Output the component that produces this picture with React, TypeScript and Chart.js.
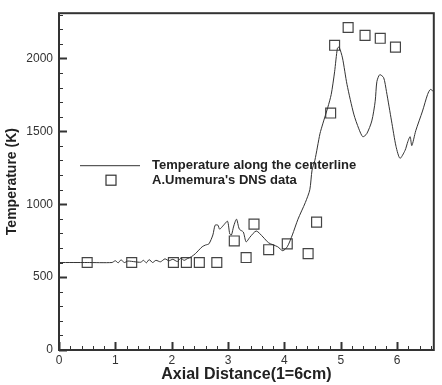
import { useEffect, useRef } from 'react';
import { Chart, registerables } from 'chart.js';

Chart.register(...registerables);

const lineX = [0, 0.5, 0.94, 1.0, 1.05, 1.1, 1.16, 1.22, 1.35, 1.45, 1.5, 1.55, 1.6, 1.66, 1.72, 1.8, 1.88, 1.95, 2.02, 2.1, 2.16, 2.22, 2.28, 2.35, 2.42, 2.54, 2.6, 2.66, 2.73, 2.77, 2.82, 2.85, 2.92, 2.99, 3.03, 3.06, 3.1, 3.15, 3.2, 3.27, 3.32, 3.39, 3.5, 3.62, 3.72, 3.88, 3.97, 4.05, 4.14, 4.24, 4.37, 4.45, 4.49, 4.54, 4.63, 4.68, 4.77, 4.83, 4.89, 4.94, 4.97, 5.03, 5.11, 5.23, 5.32, 5.39, 5.46, 5.55, 5.61, 5.64, 5.69, 5.76, 5.81, 5.9, 5.98, 6.05, 6.14, 6.19, 6.23, 6.26, 6.33, 6.45, 6.54, 6.59, 6.66];
const lineY = [600, 600, 600, 612, 598, 618, 600, 610, 605, 602, 615, 598, 620, 600, 615, 605, 625, 612, 622, 607, 630, 615, 627, 640, 661, 708, 720, 728, 789, 856, 856, 829, 856, 883, 796, 789, 850, 897, 829, 809, 742, 775, 816, 775, 735, 708, 681, 708, 789, 897, 1011, 1099, 1234, 1301, 1483, 1551, 1665, 1753, 1908, 2070, 2077, 2003, 1821, 1618, 1517, 1463, 1483, 1571, 1706, 1841, 1888, 1868, 1773, 1571, 1396, 1315, 1369, 1430, 1463, 1402, 1504, 1639, 1753, 1787, 1767];

const dnsX = [0.5, 1.29, 2.03, 2.26, 2.49, 2.8, 3.11, 3.32, 3.46, 3.72, 4.05, 4.42, 4.57, 4.82, 4.89, 5.13, 5.43, 5.7, 5.97];
const dnsY = [600, 600, 600, 600, 600, 600, 748, 634, 863, 688, 728, 661, 877, 1625, 2090, 2212, 2158, 2138, 2077];

const seriesNames = ['Temperature along the centerline', "A.Umemura's DNS data"];
const xTitle = 'Axial Distance(1=6cm)';
const yTitle = 'Temperature (K)';
const xMajorTicks = [0, 1, 2, 3, 4, 5, 6];
const yMajorTicks = [0, 500, 1000, 1500, 2000];
const xMinorPerMajor = 5;
const yMinorStep = 100;
const xMin = 0;
const xMax = 6.65;
const yMin = 0;
const yMax = 2310;

const INK = '#333333';
const FONT = "'Liberation Sans', Arial, sans-serif";

function xTickList() {
  const out: { value: number; major: boolean }[] = [];
  xMajorTicks.forEach((m) => {
    for (let i = 0; i < xMinorPerMajor; i++) {
      const v = m + i / xMinorPerMajor;
      if (v <= xMax) out.push({ value: v, major: i === 0 });
    }
  });
  return out;
}

function yTickList() {
  const out: { value: number; major: boolean }[] = [];
  for (let v = yMin; v <= yMax; v += yMinorStep) {
    out.push({ value: v, major: yMajorTicks.includes(v) });
  }
  return out;
}

const frameAndTicks = {
  id: 'frameAndTicks',
  afterDatasetsDraw(chart: any) {
    const { ctx, chartArea: a, scales } = chart;
    const xs = scales.x;
    const ys = scales.y;
    ctx.save();
    ctx.strokeStyle = INK;
    xs.ticks.forEach((t: any) => {
      const px = Math.round(xs.getPixelForValue(t.value)) + 0.5;
      ctx.lineWidth = t.major ? 2 : 1;
      ctx.beginPath();
      ctx.moveTo(px, a.bottom);
      ctx.lineTo(px, a.bottom - (t.major ? 8 : 4));
      ctx.stroke();
    });
    ys.ticks.forEach((t: any) => {
      const py = Math.round(ys.getPixelForValue(t.value)) + 0.5;
      ctx.lineWidth = t.major ? 2 : 1;
      ctx.beginPath();
      ctx.moveTo(a.left, py);
      ctx.lineTo(a.left + (t.major ? 8 : 4), py);
      ctx.stroke();
    });
    ctx.lineWidth = 2;
    ctx.strokeRect(a.left, a.top, a.right - a.left, a.bottom - a.top);
    ctx.restore();
  },
};

const insideLegend = {
  id: 'insideLegend',
  afterDraw(chart: any) {
    const { ctx, chartArea: a } = chart;
    ctx.save();
    const lx = a.left + 21;
    const y1 = a.top + 152;
    const y2 = a.top + 167;
    ctx.strokeStyle = INK;
    ctx.lineWidth = 1;
    ctx.beginPath();
    ctx.moveTo(lx, y1 + 0.5);
    ctx.lineTo(lx + 60, y1 + 0.5);
    ctx.stroke();
    ctx.lineWidth = 1.2;
    ctx.strokeRect(lx + 26, y2 - 5, 10, 10);
    ctx.fillStyle = '#222';
    ctx.font = `bold 13px ${FONT}`;
    ctx.textBaseline = 'middle';
    ctx.textAlign = 'left';
    ctx.fillText(seriesNames[0], lx + 72, y1);
    ctx.fillText(seriesNames[1], lx + 72, y2);
    ctx.restore();
  },
};

export default function App() {
  const ref = useRef<HTMLCanvasElement | null>(null);
  useEffect(() => {
    if (!ref.current) return;
    const chart = new Chart(ref.current, {
      type: 'scatter',
      data: {
        datasets: [
          {
            type: 'line',
            label: seriesNames[0],
            data: lineX.map((x, i) => ({ x, y: lineY[i] })),
            borderColor: INK,
            borderWidth: 1,
            pointRadius: 0,
            tension: 0.25,
            fill: false,
          } as any,
          {
            label: seriesNames[1],
            data: dnsX.map((x, i) => ({ x, y: dnsY[i] })),
            pointStyle: 'rect',
            pointRadius: 7,
            borderColor: '#444',
            borderWidth: 1.2,
            backgroundColor: 'rgba(0,0,0,0)',
          },
        ],
      },
      options: {
        animation: false,
        responsive: false,
        maintainAspectRatio: false,
        layout: { padding: { left: 0, top: 7, right: 1, bottom: 0 } },
        plugins: { legend: { display: false }, tooltip: { enabled: false } },
        scales: {
          x: {
            type: 'linear',
            min: xMin,
            max: xMax,
            grid: { display: false, drawTicks: false },
            border: { display: false },
            afterBuildTicks: (s: any) => {
              s.ticks = xTickList();
            },
            ticks: {
              autoSkip: false,
              maxRotation: 0,
              padding: 3,
              color: INK,
              font: { family: FONT, size: 12 },
              callback: (v: any) => (xMajorTicks.includes(v) ? String(v) : ''),
            },
            title: {
              display: true,
              text: xTitle,
              color: '#222',
              font: { family: FONT, size: 16, weight: 'bold' },
              padding: { top: 0, bottom: 1 },
            },
            afterFit: (s: any) => {
              s.height = 35;
            },
          },
          y: {
            type: 'linear',
            min: yMin,
            max: yMax,
            grid: { display: false, drawTicks: false },
            border: { display: false },
            afterBuildTicks: (s: any) => {
              s.ticks = yTickList();
            },
            ticks: {
              autoSkip: false,
              padding: 6,
              color: INK,
              font: { family: FONT, size: 12 },
              callback: (v: any) => (yMajorTicks.includes(v) ? String(v) : ''),
            },
            title: {
              display: true,
              text: yTitle,
              color: '#222',
              font: { family: FONT, size: 14, weight: 'bold' },
              padding: { top: 4, bottom: 0 },
            },
            afterFit: (s: any) => {
              s.width = 59;
            },
          },
        },
      },
      plugins: [frameAndTicks, insideLegend],
    });
    return () => chart.destroy();
  }, []);
  return (
    <div style={{ position: 'fixed', left: 0, top: 0, width: 442, height: 385, background: '#fff' }}>
      <canvas ref={ref} width={442} height={385} style={{ display: 'block', width: 442, height: 385 }} />
    </div>
  );
}
